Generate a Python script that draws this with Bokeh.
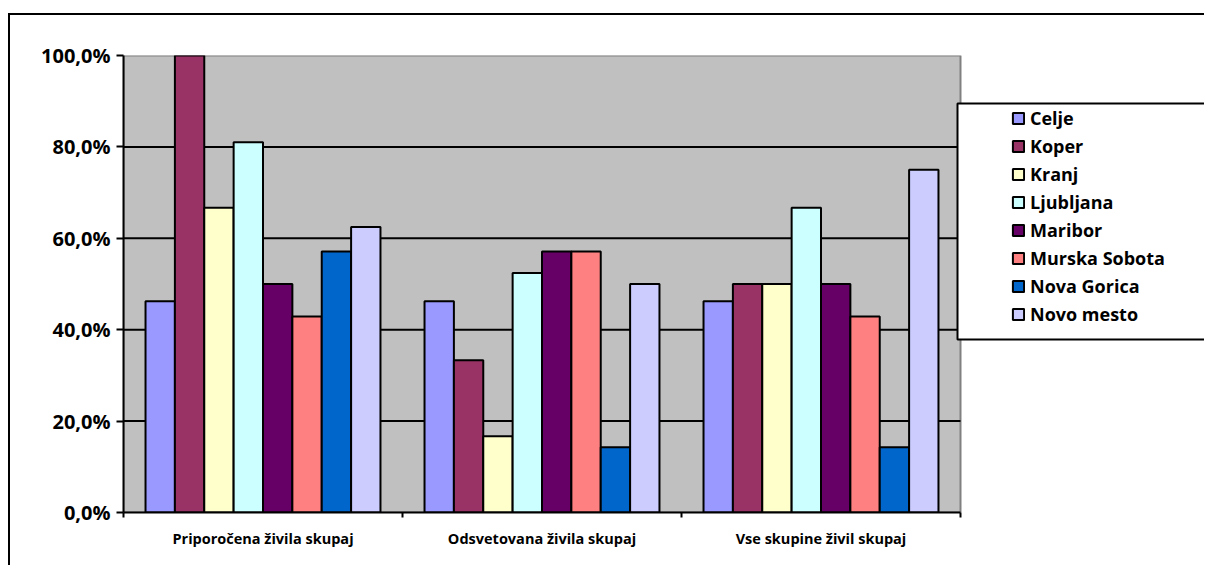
from bokeh.plotting import figure
from bokeh.models import (Range1d, FixedTicker, Legend, LegendItem, BoxAnnotation)
from bokeh.embed import file_html
from bokeh.resources import INLINE

categories = ["Priporočena živila skupaj", "Odsvetovana živila skupaj", "Vse skupine živil skupaj"]
cities = ["Celje", "Koper", "Kranj", "Ljubljana", "Maribor", "Murska Sobota", "Nova Gorica", "Novo mesto"]
colors = ["#9999FF", "#993366", "#FFFFCC", "#CCFFFF", "#660066", "#FF8080", "#0066CC", "#CCCCFF"]

celje = [46.2, 46.2, 46.2]
koper = [100.0, 33.3, 50.0]
kranj = [66.7, 16.7, 50.0]
ljubljana = [81.0, 52.4, 66.7]
maribor = [50.0, 57.1, 50.0]
murska_sobota = [42.9, 57.1, 42.9]
nova_gorica = [57.1, 14.3, 14.3]
novo_mesto = [62.5, 50.0, 75.0]
series = [celje, koper, kranj, ljubljana, maribor, murska_sobota, nova_gorica, novo_mesto]

y_ticks = [0.0, 0.2, 0.4, 0.6, 0.8, 1.0]
y_labels = ["0,0%", "20,0%", "40,0%", "60,0%", "80,0%", "100,0%"]

FONT = "Open Sans"

W, H = 1196, 552
BL, BT, BB = 113, 40, 55
plot_px = 837                      # pixel width of the gray plot area
frame_px = W - BL
ncat = len(categories)
x_end = ncat * frame_px / plot_px

p = figure(width=W, height=H, output_backend="svg", toolbar_location=None,
           x_range=Range1d(0, x_end), y_range=Range1d(0, 1),
           min_border_left=BL, min_border_right=0, min_border_top=BT, min_border_bottom=BB)
p.styles = {"border-left": "2px solid black", "border-top": "2px solid black",
            "margin-top": "13px", "margin-left": "8px"}
p.background_fill_color = "white"
p.border_fill_color = "white"
p.outline_line_color = None

# gray plot area
area = BoxAnnotation(left=0, right=ncat, bottom=y_ticks[0], top=y_ticks[-1], level="underlay",
                     fill_color="#C0C0C0", fill_alpha=1, line_color="#808080", line_alpha=1, line_width=2)
p.add_layout(area)

# horizontal gridlines limited to plot area
grid_y = y_ticks[1:-1]
p.segment(x0=[0] * len(grid_y), x1=[ncat] * len(grid_y), y0=grid_y, y1=grid_y,
          line_color="black", line_width=2)

n = len(cities)
bw = 1.0 / (n + 1.5)
renderers = []
for k, (name, vals, col) in enumerate(zip(cities, series, colors)):
    xs = [i + 0.5 + (k - (n - 1) / 2) * bw for i in range(ncat)]
    ys = [v / 100.0 for v in vals]
    r = p.vbar(x=xs, top=ys, bottom=0, width=bw, fill_color=col, line_color="black", line_width=2)
    renderers.append(r)

# axes
p.yaxis.ticker = FixedTicker(ticks=y_ticks)
p.yaxis.major_label_overrides = {t: l for t, l in zip(y_ticks, y_labels)}
p.yaxis.major_label_text_font = FONT
p.yaxis.major_label_text_font_style = "bold"
p.yaxis.major_label_text_font_size = "20px"
p.yaxis.major_label_text_color = "black"
p.yaxis.major_tick_out = 7
p.yaxis.major_tick_in = 0
p.yaxis.minor_tick_line_color = None
p.yaxis.axis_line_width = 2
p.yaxis.major_tick_line_width = 2
p.yaxis.axis_line_color = "black"
p.yaxis.major_label_standoff = 6

centers = [i + 0.5 for i in range(ncat)]
p.xaxis.bounds = (0, ncat)
p.xaxis.ticker = FixedTicker(ticks=centers, minor_ticks=list(range(ncat + 1)))
p.xaxis.major_label_overrides = {c: l for c, l in zip(centers, categories)}
p.xaxis.major_label_text_font = FONT
p.xaxis.major_label_text_font_style = "bold"
p.xaxis.major_label_text_font_size = "14.5px"
p.xaxis.major_label_text_color = "black"
p.xaxis.major_tick_line_color = None
p.xaxis.major_tick_out = 0
p.xaxis.major_tick_in = 0
p.xaxis.minor_tick_out = 5
p.xaxis.minor_tick_in = 0
p.xaxis.minor_tick_line_width = 2
p.xaxis.minor_tick_line_color = "black"
p.xaxis.axis_line_width = 2
p.xaxis.axis_line_color = "black"
p.xaxis.major_label_standoff = 11

p.xgrid.grid_line_color = None
p.ygrid.grid_line_color = None

# legend box
lbox = BoxAnnotation(left=945, right=1400, top=86, bottom=322,
                     left_units="canvas", right_units="canvas", top_units="canvas", bottom_units="canvas",
                     fill_color="white", fill_alpha=1, line_color="black", line_alpha=1, line_width=2)
p.add_layout(lbox)

legend = Legend(items=[LegendItem(label=c, renderers=[r]) for c, r in zip(cities, renderers)],
                location=(888, 184), padding=0, spacing=0, margin=0,
                glyph_width=14, glyph_height=14, label_height=28, label_standoff=5,
                border_line_alpha=0, background_fill_alpha=0,
                label_text_font=FONT, label_text_font_style="bold", label_text_font_size="18px",
                label_text_color="black")
p.add_layout(legend, "center")

open("out.html", "w").write(file_html(p, INLINE))
